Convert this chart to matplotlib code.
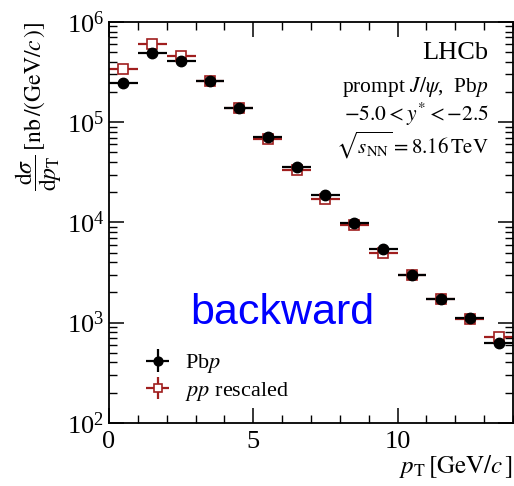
import numpy as np
import matplotlib
matplotlib.use("Agg")
import matplotlib.pyplot as plt
from matplotlib.ticker import LogLocator, MultipleLocator, NullFormatter

plt.rcParams["font.family"] = "serif"
plt.rcParams["font.serif"] = ["Liberation Serif", "DejaVu Serif"]
plt.rcParams["mathtext.fontset"] = "stix"

# pT bins [GeV/c]
pt_centers = [0.5, 1.5, 2.5, 3.5, 4.5, 5.5, 6.5, 7.5, 8.5, 9.5, 10.5, 11.5, 12.5, 13.5]
pt_halfwidth = [0.5] * 14

# dsigma/dpT [nb/(GeV/c)]
pbp_xsec = [2.45e5, 4.9e5, 4.1e5, 2.57e5, 1.38e5, 7.1e4, 3.6e4, 1.86e4, 9.8e3,
            5.4e3, 3.0e3, 1.7e3, 1.12e3, 6.2e2]
pbp_err = [1.5e4, 3.0e4, 2.2e4, 1.3e4, 7.0e3, 3.6e3, 1.9e3, 1.0e3, 5.5e2,
           3.2e2, 1.9e2, 1.2e2, 9.0e1, 7.5e1]
pp_xsec = [3.35e5, 6.0e5, 4.55e5, 2.6e5, 1.38e5, 6.8e4, 3.35e4, 1.72e4, 9.5e3,
           5.0e3, 3.0e3, 1.72e3, 1.08e3, 7.1e2]
pp_err = [1.5e4, 2.5e4, 1.8e4, 1.0e4, 5.5e3, 2.8e3, 1.4e3, 7.5e2, 4.5e2,
          2.5e2, 1.6e2, 1.0e2, 7.0e1, 6.0e1]

red = "#a01e1e"

fig = plt.figure(figsize=(5.14, 4.86), dpi=100)
ax = fig.add_axes([0.212, 0.130, 0.786, 0.825])

pp = ax.errorbar(pt_centers, pp_xsec, xerr=pt_halfwidth, yerr=pp_err, fmt="s",
                 color=red, mfc="white", mec=red, ms=7.5, mew=1.2,
                 elinewidth=1.6, capsize=0, label=r"$pp$ rescaled")
pbp = ax.errorbar(pt_centers, pbp_xsec, xerr=pt_halfwidth, yerr=pbp_err, fmt="o",
                  color="black", ms=7.5, elinewidth=1.6, capsize=0, label=r"Pb$p$")

ax.set_yscale("log")
ax.set_xlim(0, 14)
ax.set_ylim(1e2, 1e6)

ax.xaxis.set_major_locator(MultipleLocator(5))
ax.xaxis.set_minor_locator(MultipleLocator(1))
ax.yaxis.set_major_locator(LogLocator(base=10, numticks=10))
ax.yaxis.set_minor_locator(LogLocator(base=10, subs=np.arange(2, 10), numticks=20))
ax.yaxis.set_minor_formatter(NullFormatter())

ax.tick_params(which="both", direction="in", top=True, right=True, labelsize=19)
ax.tick_params(axis="x", pad=6)
ax.tick_params(which="major", length=11, width=1.1)
ax.tick_params(which="minor", length=5.5, width=1.0)
for s in ax.spines.values():
    s.set_linewidth(1.3)

ax.set_xlabel(r"$p_\mathrm{T}\,[\mathrm{GeV}/c\,]$", fontsize=18, loc="right", labelpad=0)
ax.set_ylabel(r"$\dfrac{\mathrm{d}\sigma}{\mathrm{d}p_\mathrm{T}}\,[\mathrm{nb}\,/(\mathrm{GeV}/c\,)]$",
              fontsize=17, loc="top", labelpad=2)

ax.text(0.94, 0.923, "LHCb", transform=ax.transAxes, ha="right", va="center", fontsize=19)
ax.text(0.94, 0.838, r"prompt $J/\psi$,  Pb$p$", transform=ax.transAxes,
        ha="right", va="center", fontsize=15.5)
ax.text(0.94, 0.768, r"$-5.0 < y^{*} < -2.5$", transform=ax.transAxes,
        ha="right", va="center", fontsize=15.5)
ax.text(0.94, 0.693, r"$\sqrt{s_\mathrm{NN}} = 8.16\,\mathrm{TeV}$", transform=ax.transAxes,
        ha="right", va="center", fontsize=15)

ax.text(6.0, 1.25e3, "backward", color="blue", fontsize=31, ha="center", va="center",
        family="Liberation Sans")

ax.legend(handles=[pbp, pp], loc="lower left", bbox_to_anchor=(0.035, 0.0),
          frameon=False, fontsize=16, handlelength=1.3, handletextpad=0.6,
          labelspacing=0.2, markerscale=0.85)

fig.savefig("out.png", dpi=100)
